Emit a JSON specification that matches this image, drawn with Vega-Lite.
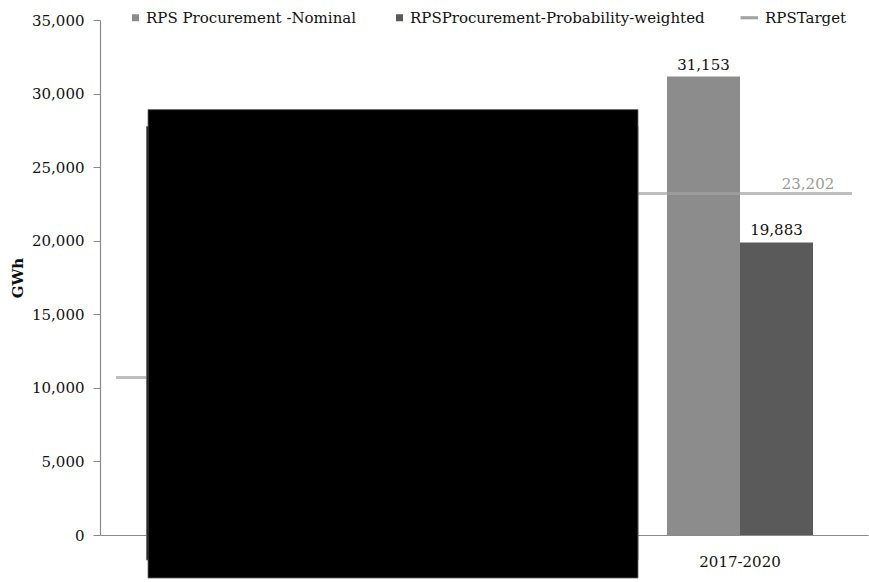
{
  "$schema": "https://vega.github.io/schema/vega-lite/v6.json",
  "width": 768,
  "height": 515,
  "autosize": {"type": "none"},
  "padding": {"left": 100, "top": 20, "right": 1, "bottom": 47},
  "background": "white",
  "config": {
    "view": {"stroke": null},
    "font": "DejaVu Serif",
    "text": {"font": "DejaVu Serif"},
    "axis": {
      "labelFont": "DejaVu Serif", "labelFontSize": 15, "labelColor": "#111",
      "titleFont": "DejaVu Serif", "titleFontSize": 15, "titleFontWeight": "bold", "titleColor": "#111",
      "domainColor": "#8a8a8a", "domainWidth": 1.2, "tickColor": "#8a8a8a", "grid": false
    },
    "legend": {
      "labelFont": "DejaVu Serif", "labelFontSize": 15, "labelColor": "#111", "labelOffset": 3, "labelLimit": 400,
      "symbolSize": 49, "symbolStrokeWidth": 0, "symbolType": "square"
    }
  },
  "datasets": {
    "bars": [
      {"period": "2017-2020", "series": "RPS Procurement -Nominal", "gwh": 31153},
      {"period": "2017-2020", "series": "RPSProcurement-Probability-weighted", "gwh": 19883}
    ],
    "target": [
      {"period": "2011-2013", "series": "RPSTarget", "gwh": 10700},
      {"period": "2017-2020", "series": "RPSTarget", "gwh": 23202}
    ],
    "redaction": [
      {"x0": 0.1816, "x1": 2.1016, "y0": -1700, "y1": 27755},
      {"x0": 0.1875, "x1": 2.1016, "y0": -2925, "y1": 28911}
    ]
  },
  "layer": [
    {
      "layer": [
        {
          "data": {"name": "bars"},
          "mark": {"type": "bar"},
          "encoding": {
            "x": {
              "field": "period", "type": "nominal", "sort": null,
              "scale": {"domain": ["2011-2013", "2014-2016", "2017-2020"], "paddingInner": 0, "paddingOuter": 0},
              "axis": {"title": null, "ticks": false, "labelAngle": 0, "labelPadding": 19}
            },
            "xOffset": {
              "field": "series", "type": "nominal",
              "scale": {"domain": ["RPS Procurement -Nominal", "RPSProcurement-Probability-weighted"], "paddingInner": 0, "paddingOuter": 0.7534}
            },
            "y": {
              "field": "gwh", "type": "quantitative",
              "scale": {"domain": [0, 35000], "nice": false},
              "axis": {
                "title": "GWh", "titlePadding": 6,
                "values": [0, 5000, 10000, 15000, 20000, 25000, 30000, 35000],
                "format": ",.0f", "labelPadding": 9, "tickSize": 7
              }
            },
            "color": {
              "field": "series", "type": "nominal",
              "scale": {
                "domain": ["RPS Procurement -Nominal", "RPSProcurement-Probability-weighted", "RPSTarget"],
                "range": ["#8c8c8c", "#5a5a5a", "#a3a3a3"]
              },
              "legend": {
                "title": null, "orient": "none", "legendX": 28, "legendY": -10,
                "direction": "horizontal", "columns": 3, "columnPadding": 35,
                "symbolType": "square",
                "encode": {
                  "symbols": {
                    "update": {
                      "shape": {"signal": "datum.label === 'RPSTarget' ? 'M-4,-0.45H1V0.45H-4Z' : 'square'"}
                    }
                  }
                }
              }
            }
          }
        },
        {
          "data": {"name": "bars"},
          "mark": {"type": "text", "baseline": "alphabetic", "dy": -7, "fontSize": 15, "font": "DejaVu Serif", "color": "#111"},
          "encoding": {
            "x": {"field": "period", "type": "nominal", "sort": null},
            "xOffset": {"field": "series", "type": "nominal"},
            "y": {"field": "gwh", "type": "quantitative"},
            "text": {"field": "gwh", "type": "quantitative", "format": ",.0f"}
          }
        },
        {
          "data": {"name": "target"},
          "mark": {"type": "tick", "size": 224, "thickness": 3, "orient": "horizontal"},
          "encoding": {
            "x": {"field": "period", "type": "nominal", "sort": null},
            "y": {"field": "gwh", "type": "quantitative"},
            "color": {"field": "series", "type": "nominal"}
          }
        },
        {
          "data": {"name": "target"},
          "mark": {"type": "text", "baseline": "alphabetic", "dx": 68, "dy": -5, "fontSize": 15, "font": "DejaVu Serif", "color": "#9a9a9a"},
          "encoding": {
            "x": {"field": "period", "type": "nominal", "sort": null},
            "y": {"field": "gwh", "type": "quantitative"},
            "text": {"field": "gwh", "type": "quantitative", "format": ",.0f"}
          }
        }
      ]
    },
    {
      "data": {"name": "redaction"},
      "mark": {"type": "rect", "color": "black", "stroke": "#6a6a6a", "strokeWidth": 0.8},
      "encoding": {
        "x": {"field": "x0", "type": "quantitative", "scale": {"domain": [0, 3], "nice": false, "zero": false}, "axis": null},
        "x2": {"field": "x1"},
        "y": {
          "field": "y0", "type": "quantitative",
          "scale": {"domain": [0, 35000], "nice": false},
          "axis": {
            "title": "GWh", "titlePadding": 6,
            "values": [0, 5000, 10000, 15000, 20000, 25000, 30000, 35000],
            "format": ",.0f", "labelPadding": 9, "tickSize": 7
          }
        },
        "y2": {"field": "y1"}
      }
    }
  ],
  "resolve": {"scale": {"x": "independent"}}
}
